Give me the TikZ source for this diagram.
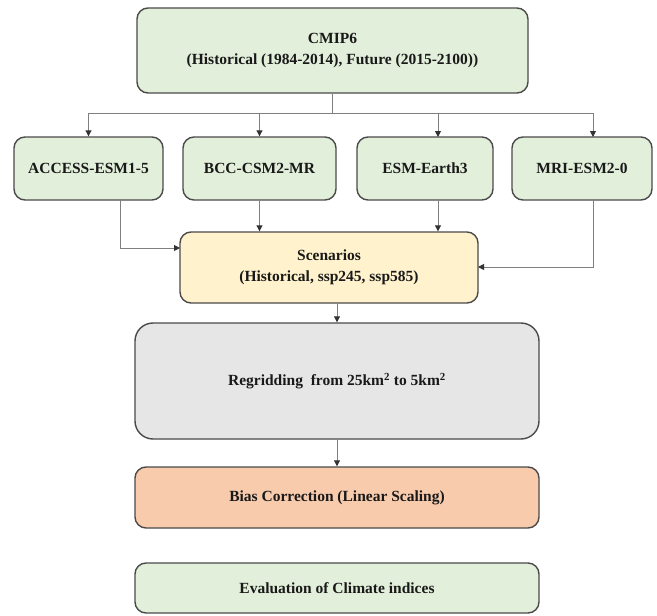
\documentclass[tikz,border=0pt]{standalone}
\usepackage{fontspec}
\setmainfont{Liberation Serif}
\usetikzlibrary{arrows.meta}
\definecolor{greenbox}{HTML}{E2EFDA}
\definecolor{yellowbox}{HTML}{FFF2CC}
\definecolor{graybox}{HTML}{E7E6E6}
\definecolor{orangebox}{HTML}{F8CBAD}
\definecolor{edgec}{HTML}{4A4A4A}
\definecolor{connc}{HTML}{7F7F7F}
\begin{document}
\begin{tikzpicture}[x=1pt,y=-1pt,
  box/.style={draw=edgec,line width=1.4pt,rounded corners=11pt,align=center,
    font=\fontsize{15.5}{20.5}\selectfont\bfseries,inner sep=0pt,text=black!90},
  conn/.style={draw=connc,line width=1pt},
  arr/.style={conn,-{Triangle[width=6pt,length=6pt,color=black!80]}}]
\useasboundingbox[fill=white] (0,0) rectangle (657,616);
\node[box,fill=greenbox,minimum width=391pt,minimum height=85pt] (cmip) at (332.5,50.5)
  {CMIP6\\(Historical (1984-2014), Future (2015-2100))};
\node[box,fill=greenbox,minimum width=149pt,minimum height=63pt] (access) at (88.5,168.5) {ACCESS-ESM1-5};
\node[box,fill=greenbox,minimum width=153pt,minimum height=63pt] (bcc) at (259.5,168.5) {BCC-CSM2-MR};
\node[box,fill=greenbox,minimum width=136pt,minimum height=63pt] (esm) at (425,168.5) {ESM-Earth3};
\node[box,fill=greenbox,minimum width=140pt,minimum height=63pt] (mri) at (582,168.5) {MRI-ESM2-0};
\node[box,fill=yellowbox,minimum width=298pt,minimum height=71pt] (scen) at (329,267.5)
  {Scenarios\\(Historical, ssp245, ssp585)};
\node[box,fill=graybox,minimum width=404pt,minimum height=116pt,rounded corners=18pt] (regrid) at (337,381)
  {Regridding\ \ from 25km\textsuperscript{2} to 5km\textsuperscript{2}};
\node[box,fill=orangebox,minimum width=404pt,minimum height=61pt] (bias) at (337,497.5)
  {Bias Correction (Linear Scaling)};
\node[box,fill=greenbox,minimum width=404pt,minimum height=50pt] (eval) at (337,588)
  {Evaluation of Climate indices};
% bus
\coordinate (busL) at (88.5,113);
\coordinate (busR) at (593,113);
\coordinate (esmin) at (438,137);
\coordinate (mriin) at (593,137);
\coordinate (aout) at (120,200);
\coordinate (ain) at (180,248);
\coordinate (mout) at (593,200);
\coordinate (min) at (478,267);
\draw[conn] (busL) -- (busR);
\draw[conn] (cmip.south) -- (cmip.south |- busL);
\draw[arr] (access.north |- busL) -- (access.north);
\draw[arr] (bcc.north |- busL) -- (bcc.north);
\draw[arr] (esmin |- busL) -- (esmin);
\draw[arr] (mriin |- busL) -- (mriin);
% into scenarios
\draw[arr] (bcc.south) -- (bcc.south |- scen.north);
\draw[arr] (esmin |- esm.south) -- (esmin |- scen.north);
\draw[arr] (aout) |- (ain);
\draw[arr] (mout) |- (min);
% downstream
\draw[arr] (regrid.north |- scen.south) -- (regrid.north);
\draw[arr] (regrid.south) -- (bias.north);
\end{tikzpicture}
\end{document}
